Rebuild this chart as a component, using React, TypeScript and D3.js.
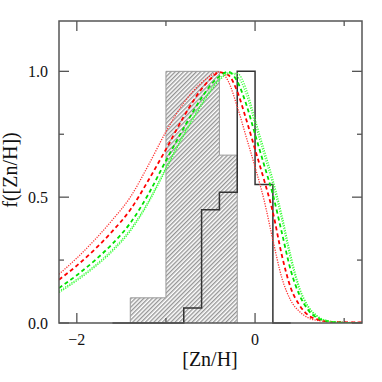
import React from "react";
import * as d3 from "d3";

// histogram bin edges and heights
const obsEdges = [-1.6, -1.4, -1.2, -1.0, -0.8, -0.6, -0.4, -0.2, 0.0, 0.2, 0.4];
const obsValues = [0, 0, 0, 0, 0.06, 0.45, 0.52, 1.0, 0.55, 0];
const shadedEdges = [-1.4, -1.2, -1.0, -0.8, -0.6, -0.4, -0.2];
const shadedValues = [0.1, 0.1, 1.0, 1.0, 1.0, 0.667];

// model curves
const curveX = [-2.2, -2.0, -1.8, -1.6, -1.4, -1.2, -1.0, -0.8, -0.6, -0.5, -0.4, -0.3, -0.2, -0.1, 0.0, 0.1, 0.2, 0.3, 0.4, 0.5, 0.6, 0.7, 0.8, 0.9, 1.0, 1.2];
const redDotted = [0.194, 0.258, 0.33, 0.41, 0.5, 0.625, 0.76, 0.875, 0.955, 0.982, 0.998, 0.96, 0.86, 0.74, 0.62, 0.49, 0.33, 0.18, 0.09, 0.045, 0.02, 0.01, 0.006, 0.004, 0.003, 0.002];
const redDashed = [0.172, 0.228, 0.292, 0.365, 0.45, 0.565, 0.69, 0.82, 0.93, 0.97, 0.996, 0.985, 0.92, 0.81, 0.69, 0.57, 0.44, 0.27, 0.14, 0.07, 0.03, 0.014, 0.007, 0.004, 0.003, 0.002];
const greenDashed = [0.139, 0.19, 0.248, 0.315, 0.397, 0.51, 0.645, 0.775, 0.895, 0.945, 0.98, 0.998, 0.96, 0.87, 0.75, 0.63, 0.51, 0.36, 0.21, 0.11, 0.05, 0.02, 0.008, 0.003, 0.001, 0];
const greenDotted = [0.121, 0.168, 0.222, 0.285, 0.365, 0.475, 0.61, 0.745, 0.865, 0.92, 0.965, 0.99, 0.992, 0.93, 0.81, 0.69, 0.57, 0.43, 0.27, 0.14, 0.065, 0.028, 0.01, 0.004, 0.001, 0];
const greenDotted2 = [0.126, 0.174, 0.228, 0.292, 0.372, 0.482, 0.618, 0.752, 0.872, 0.927, 0.97, 0.994, 0.98, 0.91, 0.79, 0.67, 0.55, 0.41, 0.25, 0.13, 0.06, 0.025, 0.009, 0.003, 0.001, 0];

const xMajor = [-2, 0];
const xMinor = [-1, 1];
const yMajor = [0, 0.5, 1.0];
const yMinor = [0.25, 0.75];

const W = 382;
const H = 382;
const margin = { top: 21, right: 20, bottom: 59, left: 59 };

const stepPath = (edges: number[], vals: number[], x: any, y: any) => {
  let p = `M${x(edges[0])},${y(0)}`;
  vals.forEach((v, i) => {
    p += `L${x(edges[i])},${y(v)}L${x(edges[i + 1])},${y(v)}`;
  });
  p += `L${x(edges[edges.length - 1])},${y(0)}`;
  return p;
};

const App = () => {
  const x = d3.scaleLinear().domain([-2.2, 1.2]).range([margin.left, W - margin.right]);
  const y = d3.scaleLinear().domain([0, 1.2]).range([H - margin.bottom, margin.top]);

  const line = d3
    .line<number>()
    .x((_, i) => x(curveX[i]))
    .y((d) => y(d))
    .curve(d3.curveMonotoneX);

  const x0 = margin.left;
  const x1 = W - margin.right;
  const y0 = H - margin.bottom;
  const y1 = margin.top;
  const font = "'Liberation Serif', serif";
  const frame = "#555";

  return (
    <svg width={W} height={H} style={{ position: "fixed", left: 0, top: 0, background: "#fff" }}>
      <defs>
        <pattern id="hatch" patternUnits="userSpaceOnUse" width={3} height={3} patternTransform="rotate(45)">
          <line x1={0.75} y1={0} x2={0.75} y2={3} stroke="#7a7a7a" strokeWidth={1.1} />
        </pattern>
        <clipPath id="plot">
          <rect x={x0} y={y1} width={x1 - x0} height={y0 - y1} />
        </clipPath>
      </defs>

      {/* shaded histogram */}
      <path d={stepPath(shadedEdges, shadedValues, x, y)} fill="url(#hatch)" stroke="#999" strokeWidth={1} />

      {/* open histogram */}
      <path d={stepPath(obsEdges, obsValues, x, y)} fill="none" stroke="#333" strokeWidth={1.5} />

      {/* model curves */}
      <g clipPath="url(#plot)" fill="none">
        <path d={line(redDotted) || ""} stroke="#ff3030" strokeWidth={1.3} strokeDasharray="1.2,1.3" />
        <path d={line(redDashed) || ""} stroke="#ff0000" strokeWidth={1.8} strokeDasharray="4,3" />
        <path d={line(greenDashed) || ""} stroke="#00e000" strokeWidth={1.8} strokeDasharray="4,3" />
        <path d={line(greenDotted2) || ""} stroke="#30ff30" strokeWidth={1.1} strokeDasharray="1.2,1.3" />
        <path d={line(greenDotted) || ""} stroke="#30ff30" strokeWidth={1.3} strokeDasharray="1.2,1.3" />
      </g>

      {/* frame and ticks */}
      <rect x={x0} y={y1} width={x1 - x0} height={y0 - y1} fill="none" stroke={frame} strokeWidth={1.5} />
      <g stroke={frame} strokeWidth={1.3}>
        {xMajor.map((t) => (
          <g key={"xM" + t}>
            <line x1={x(t)} x2={x(t)} y1={y0} y2={y0 - 10} />
            <line x1={x(t)} x2={x(t)} y1={y1} y2={y1 + 10} />
          </g>
        ))}
        {xMinor.map((t) => (
          <g key={"xm" + t}>
            <line x1={x(t)} x2={x(t)} y1={y0} y2={y0 - 5} />
            <line x1={x(t)} x2={x(t)} y1={y1} y2={y1 + 5} />
          </g>
        ))}
        {yMajor.map((t) => (
          <g key={"yM" + t}>
            <line x1={x0} x2={x0 + 10} y1={y(t)} y2={y(t)} />
            <line x1={x1} x2={x1 - 10} y1={y(t)} y2={y(t)} />
          </g>
        ))}
        {yMinor.map((t) => (
          <g key={"ym" + t}>
            <line x1={x0} x2={x0 + 5} y1={y(t)} y2={y(t)} />
            <line x1={x1} x2={x1 - 5} y1={y(t)} y2={y(t)} />
          </g>
        ))}
      </g>

      {/* tick labels */}
      <g fontFamily={font} fontSize={16} fill="#111">
        {xMajor.map((t) => (
          <text key={"xl" + t} x={x(t)} y={y0 + 22} textAnchor="middle">
            {t < 0 ? "\u2212" + Math.abs(t) : String(t)}
          </text>
        ))}
        {yMajor.map((t) => (
          <text key={"yl" + t} x={x0 - 11} y={y(t) + 5.5} textAnchor="end">
            {t.toFixed(1)}
          </text>
        ))}
      </g>

      {/* axis titles */}
      <text x={210} y={366} textAnchor="middle" fontFamily={font} fontSize={20} fill="#111">
        [Zn/H]
      </text>
      <text
        transform={`translate(17,170) rotate(-90)`}
        textAnchor="middle"
        fontFamily={font}
        fontSize={20}
        fill="#111"
      >
        f([Zn/H])
      </text>
    </svg>
  );
};

export default App;
